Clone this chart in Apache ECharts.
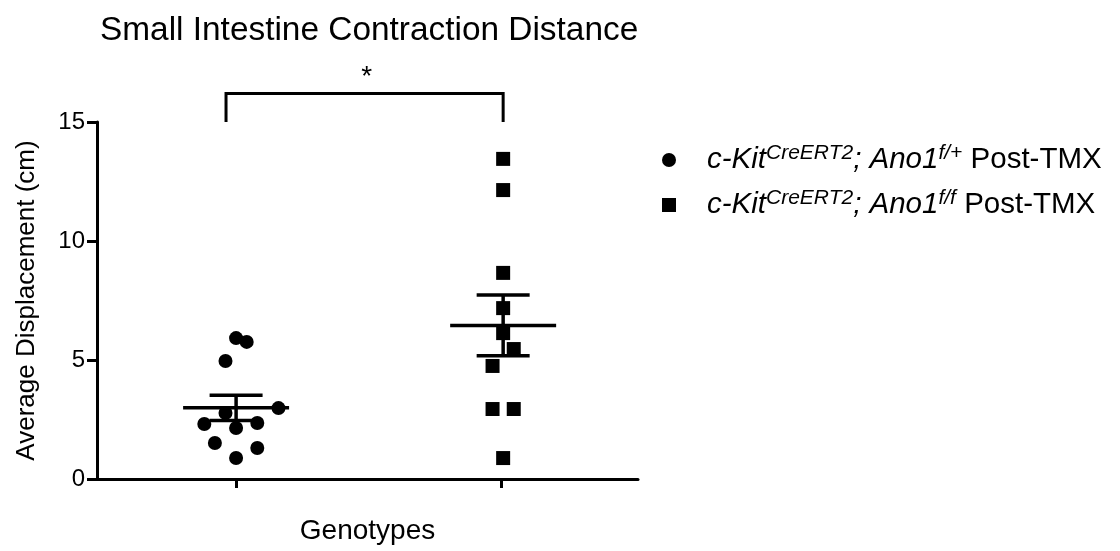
<!DOCTYPE html>
<html><head><meta charset="utf-8">
<script src="https://cdn.jsdelivr.net/npm/echarts@6/dist/echarts.min.js"></script>
<style>html,body{margin:0;padding:0;background:#fff}#c{width:1120px;height:551px}</style>
</head><body><div id="c"></div>
<script>
const chartTitle = 'Small Intestine Contraction Distance';
const xAxisName = 'Genotypes';
const yAxisName = 'Average Displacement (cm)';
const groupNames = ['c-Kit CreERT2; Ano1 f/+ Post-TMX', 'c-Kit CreERT2; Ano1 f/f Post-TMX'];
const groupLegendRich = [
  '{i|c-Kit}{s|CreERT2}{i|; Ano1}{s|f/+}{n| Post-TMX}',
  '{i|c-Kit}{s|CreERT2}{i|; Ano1}{s|f/f}{n| Post-TMX}'
];
const groupPositions = [1, 2];
const hetValues = [5.92, 5.76, 4.96, 2.98, 2.77, 2.31, 2.14, 2.35, 1.51, 1.30, 0.88];
const hetJitter = [0, 0.04, -0.04, 0.16, -0.04, -0.12, 0, 0.08, -0.08, 0.08, 0];
const koValues = [13.45, 12.14, 8.66, 7.18, 6.13, 5.46, 4.75, 2.94, 2.94, 0.88];
const koJitter = [0.008, 0.008, 0.008, 0.008, 0.008, 0.048, -0.032, -0.032, 0.048, 0.008];
const yTicks = [0, 5, 10, 15];
const sigLabel = '*';
const bracketY = [16.2, 15.0];

function meanSem(v) {
  const n = v.length;
  const m = v.reduce((a, b) => a + b, 0) / n;
  const sd = Math.sqrt(v.reduce((a, b) => a + (b - m) * (b - m), 0) / (n - 1));
  return [m, sd / Math.sqrt(n)];
}
const hetStats = meanSem(hetValues);
const koStats = meanSem(koValues);

const font = '"Liberation Sans", Arial, sans-serif';
const chart = echarts.init(document.getElementById('c'));

const option = {
  animation: false,
  backgroundColor: '#fff',
  title: {
    text: chartTitle, left: 95, top: 9,
    textStyle: { fontFamily: font, fontSize: 33.4, fontWeight: 'normal', color: '#000' }
  },
  grid: { left: 97, right: 482, top: 122, bottom: 72 },
  legend: {
    orient: 'vertical', left: 657, top: 138, itemGap: 13,
    itemWidth: 14, itemHeight: 14,
    data: [
      { name: groupNames[0], icon: 'circle' },
      { name: groupNames[1], icon: 'rect' }
    ],
    formatter: name => groupLegendRich[groupNames.indexOf(name)],
    textStyle: {
      fontFamily: font, color: '#000', fontSize: 29.5, padding: [0, 0, 0, 26],
      rich: {
        i: { fontFamily: font, fontSize: 29.5, fontStyle: 'italic', color: '#000', lineHeight: 34 },
        n: { fontFamily: font, fontSize: 29.5, color: '#000', lineHeight: 34 },
        s: { fontFamily: font, fontSize: 21, fontStyle: 'italic', color: '#000', verticalAlign: 'top', lineHeight: 12 }
      }
    }
  },
  xAxis: {
    type: 'value', min: 0.475, max: 2.517,
    name: xAxisName, nameLocation: 'middle', nameGap: 38,
    nameTextStyle: { fontFamily: font, fontSize: 28, color: '#000' },
    splitLine: { show: false },
    axisLine: { show: true, lineStyle: { color: '#000', width: 3 } },
    axisTick: { show: true, customValues: groupPositions, length: 9, lineStyle: { color: '#000', width: 3 } },
    axisLabel: { show: false }
  },
  yAxis: {
    type: 'value', min: 0, max: 15, interval: 5,
    name: yAxisName, nameLocation: 'middle', nameGap: 57, nameRotate: 90,
    nameTextStyle: { fontFamily: font, fontSize: 26, color: '#000' },
    splitLine: { show: false },
    axisLine: { show: true, lineStyle: { color: '#000', width: 3 } },
    axisTick: { show: true, customValues: yTicks, length: 10, lineStyle: { color: '#000', width: 3 } },
    axisLabel: { customValues: yTicks, fontFamily: font, fontSize: 24, color: '#000', margin: 12 }
  },
  series: [
    {
      name: groupNames[0], type: 'scatter', symbol: 'circle', symbolSize: 14,
      itemStyle: { color: '#000', opacity: 1 },
      data: hetValues.map((v, i) => [groupPositions[0] + hetJitter[i], v]), z: 2
    },
    {
      name: groupNames[1], type: 'scatter', symbol: 'rect', symbolSize: 14,
      itemStyle: { color: '#000', opacity: 1 },
      data: koValues.map((v, i) => [groupPositions[1] + koJitter[i], v]), z: 2
    },
    {
      type: 'custom', z: 5, silent: true,
      data: [[groupPositions[0], hetStats[0], hetStats[1]], [groupPositions[1] + 0.008, koStats[0], koStats[1]]],
      renderItem: (params, api) => {
        const x = api.value(0), m = api.value(1), s = api.value(2);
        const c = api.coord([x, m]);
        const top = api.coord([x, m + s]);
        const bot = api.coord([x, m - s]);
        const hw = api.size([0.2, 0])[0];
        const cw = api.size([0.1, 0])[0];
        const st = { stroke: '#000', lineWidth: 3.5 };
        return {
          type: 'group', children: [
            { type: 'line', shape: { x1: c[0] - hw, y1: c[1], x2: c[0] + hw, y2: c[1] }, style: st },
            { type: 'line', shape: { x1: c[0], y1: top[1], x2: c[0], y2: bot[1] }, style: st },
            { type: 'line', shape: { x1: c[0] - cw, y1: top[1], x2: c[0] + cw, y2: top[1] }, style: st },
            { type: 'line', shape: { x1: c[0] - cw, y1: bot[1], x2: c[0] + cw, y2: bot[1] }, style: st }
          ]
        };
      }
    },
    {
      type: 'custom', z: 5, silent: true, clip: false,
      data: [[groupPositions[0] - 0.038, groupPositions[1] + 0.008, bracketY[0], bracketY[1]]],
      renderItem: (params, api) => {
        const a = api.coord([api.value(0), api.value(2)]);
        const b = api.coord([api.value(1), api.value(2)]);
        const lo = api.coord([api.value(0), api.value(3)]);
        const st = { stroke: '#000', lineWidth: 3, fill: null, lineJoin: 'miter' };
        return {
          type: 'group', children: [
            { type: 'polyline', shape: { points: [[a[0], lo[1]], a, b, [b[0], lo[1]]] }, style: st },
            { type: 'text', style: { text: sigLabel, x: (a[0] + b[0]) / 2 + 2, y: a[1] - 16,
              align: 'center', verticalAlign: 'middle', fontFamily: font, fontSize: 28, fill: '#000' } }
          ]
        };
      }
    }
  ]
};
chart.setOption(option);
</script></body></html>
